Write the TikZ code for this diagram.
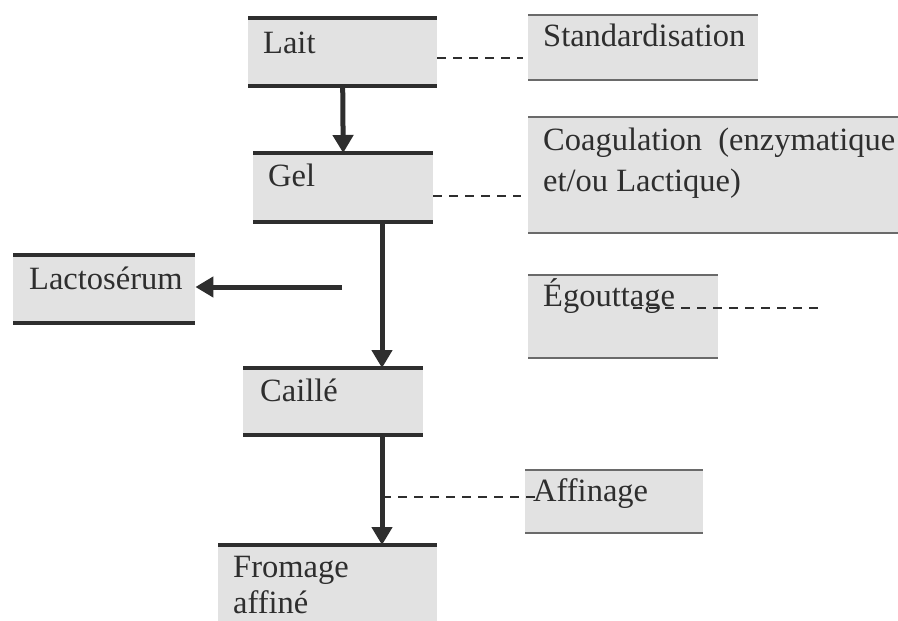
\documentclass[tikz,border=0pt]{standalone}
\usepackage{fontspec}
\setmainfont{Liberation Serif}
\usetikzlibrary{arrows.meta}
\definecolor{boxfill}{HTML}{E2E2E2}
\definecolor{ink}{HTML}{2E2E2E}
\definecolor{thinbar}{HTML}{6A6A6A}
\tikzset{
  box/.style={rectangle, fill=boxfill, draw=none, inner sep=0pt, anchor=north west},
  txt/.style={anchor=base west, inner sep=0pt, text=ink, font=\fontsize{32.5}{41}\selectfont},
  thick bar/.style={line width=4pt, draw=ink},
  thin bar/.style={line width=2pt, draw=thinbar},
  flow/.style={line width=5pt, draw=ink, -{Triangle[width=20pt,length=18pt]}},
  dashlink/.style={line width=2.5pt, draw=ink, dash pattern=on 9pt off 7pt}
}
\begin{document}
\begin{tikzpicture}[x=1pt,y=-1pt]
\useasboundingbox (0,0) rectangle (898,621);
% left boxes
\node[box, minimum width=189pt, minimum height=68pt] (lait) at (248,18) {};
\node[box, minimum width=180pt, minimum height=69pt] (gel) at (253,153) {};
\node[box, minimum width=182pt, minimum height=68pt] (lacto) at (13,255) {};
\node[box, minimum width=180pt, minimum height=67pt] (caille) at (243,368) {};
\node[box, minimum width=219pt, minimum height=80pt] (fromage) at (218,545) {};
% right boxes
\node[box, minimum width=230pt, minimum height=65pt] (stand) at (528,15) {};
\node[box, minimum width=370pt, minimum height=116pt] (coag) at (528,117) {};
\node[box, minimum width=190pt, minimum height=83pt] (egout) at (528,275) {};
\node[box, minimum width=178pt, minimum height=63pt] (affin) at (525,470) {};
% bars
\foreach \b in {lait,gel,lacto,caille}{
  \draw[thick bar] (\b.north west) -- (\b.north east);
  \draw[thick bar] (\b.south west) -- (\b.south east);
}
\draw[thick bar] (fromage.north west) -- (fromage.north east);
\foreach \b in {stand,coag,egout,affin}{
  \draw[thin bar] (\b.north west) -- (\b.north east);
  \draw[thin bar] (\b.south west) -- (\b.south east);
}
% texts
\node[txt] (laitT) at (263,53) {Lait};
\node[txt] (gelT) at (268,186) {Gel};
\node[txt] (lactoT) at (29,289) {Lactosérum};
\node[txt] (cailleT) at (260,401) {Caillé};
\node[txt] (fromageT) at (233,577) {Fromage};
\node[txt] (fromageT2) at (233,613) {affiné};
\node[txt] (standT) at (543,46) {Standardisation};
\node[txt] (coagT) at (543,150) {Coagulation\ \ (enzymatique};
\node[txt] (coagT2) at (543,191) {et/ou Lactique)};
\node[txt] (egoutT) at (543,306) {Égouttage};
\node[txt] (affinT) at (533,501) {Affinage};
% flow arrows
\coordinate (mainx) at (382,0);
\coordinate (lstart) at (342,287);
\draw[flow] (lait.south) -- (gel.north);
\draw[flow] (gel.south -| mainx) -- (caille.north -| mainx);
\draw[flow] (caille.south -| mainx) -- (fromage.north -| mainx);
\draw[flow] (lstart) -- (lacto.east |- lstart);
% dashed links
\coordinate (d1) at (0,58);
\coordinate (d2) at (0,196);
\coordinate (d3) at (0,308);
\coordinate (d3end) at (825,308);
\coordinate (d4) at (0,497);
\draw[dashlink] (lait.east |- d1) -- ([xshift=-5pt]stand.west |- d1);
\draw[dashlink] (gel.east |- d2) -- ([xshift=-7pt]coag.west |- d2);
\draw[dashlink] (633,308) -- (d3end);
\draw[dashlink] (mainx |- d4) -- ([xshift=10pt]affin.west |- d4);
\end{tikzpicture}
\end{document}
